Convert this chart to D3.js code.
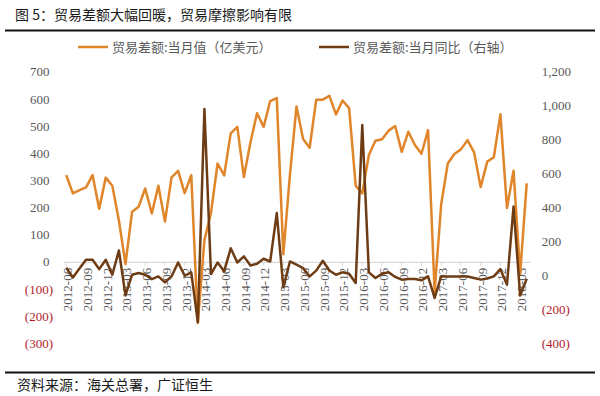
<!DOCTYPE html>
<html>
<head>
<meta charset="utf-8">
<script src="https://cdn.jsdelivr.net/npm/d3@7"></script>
<style>
  body { margin: 0; background: #fff; }
  .num { font-family: "Liberation Serif", "Times New Roman", serif; font-size: 13px; fill: #595959; }
  .cjk { font-family: "Noto Sans CJK SC", sans-serif; }
</style>
</head>
<body>
<svg id="chart" width="600" height="396"></svg>
<script>
// 月份：2012-06 ~ 2018-04
var months = d3.timeMonth.range(new Date(2012, 5, 1), new Date(2018, 4, 1)).map(d3.timeFormat("%Y-%m"));

// 贸易差额:当月值（亿美元），左轴
var balance = [
  319, 252, 264, 274, 319, 195, 310,
  280, 152, -8, 184, 203, 270, 178, 280, 148, 311, 335, 253,
  319, -225, 80, 180, 362, 318, 473, 497, 312, 440, 547, 497,
  592, 603, 28, 320, 572, 452, 420, 597, 597, 611, 543, 594,
  566, 280, 252, 393, 446, 451, 483, 500, 405, 479, 430, 398,
  485, -110, 212, 362, 397, 414, 448, 403, 275, 369, 385, 543,
  198, 335, -45, 289
];

// 贸易差额:当月同比（%），右轴
var yoy = [
  45, -12, 40, 92, 92, 37, 92,
  4, 147, -118, 4, 14, 4, -22, -6, -41, -6, 76, -2,
  18, -276, 980, 8, 76, 24, 160, 76, 112, 58, 69, 98,
  82, 367, -70, 82, 63, 43, -6, 28, 86, 29, 4, 18,
  10, -45, 886, 18, -15, 10, 18, -9, -25, -21, -21, -29,
  -6, -133, -6, -6, -6, -6, -6, -15, -25, -18, -6, 37,
  -55, 406, -119, -20
];

var leftTicks = [-300, -200, -100, 0, 100, 200, 300, 400, 500, 600, 700];
var rightTicks = [-400, -200, 0, 200, 400, 600, 800, 1000, 1200];
var xTickLabels = months.filter(function(d, i) { return i % 3 === 0; });

var svg = d3.select("#chart");
var plotL = 63, plotR = 530, plotT = 71.7, plotB = 343.3;
var orange = "#e0852a", brown = "#6e3c14", negRed = "#b01c2e";

var x = d3.scaleBand().domain(months).range([plotL, plotR]);
var yL = d3.scaleLinear().domain([-300, 700]).range([plotB, plotT]);
var yR = d3.scaleLinear().domain([-400, 1200]).range([plotB, plotT]);

function fmt(v) {
  var s = d3.format(",")(Math.abs(v));
  return v < 0 ? "(" + s + ")" : s;
}

// 标题
svg.append("text").attr("class", "cjk").attr("x", 15).attr("y", 20)
  .attr("font-size", 14).attr("fill", "#1a1a1a")
  .text("图 5：贸易差额大幅回暖，贸易摩擦影响有限");
svg.append("line").attr("x1", 5).attr("x2", 595).attr("y1", 30.5).attr("y2", 30.5)
  .attr("stroke", "#111").attr("stroke-width", 2);

// 图例
var legend = [
  { name: "贸易差额:当月值（亿美元）", color: orange, x: 78 },
  { name: "贸易差额:当月同比（右轴）", color: brown, x: 319 }
];
var lg = svg.selectAll(".lg").data(legend).enter().append("g")
  .attr("transform", function(d) { return "translate(" + d.x + ",47)"; });
lg.append("line").attr("x1", 0).attr("x2", 30).attr("stroke", function(d) { return d.color; })
  .attr("stroke-width", 2.5);
lg.append("text").attr("class", "cjk").attr("x", 34).attr("dy", "0.35em")
  .attr("font-size", 13).attr("fill", "#595959").text(function(d) { return d.name; });

// 左轴
var gl = svg.append("g").attr("transform", "translate(" + plotL + ",0)")
  .call(d3.axisLeft(yL).tickValues(leftTicks).tickSize(0).tickPadding(13.5).tickFormat(fmt));
gl.select(".domain").remove();
gl.selectAll("text").attr("class", "num")
  .attr("dx", function(d) { return d < 0 ? 3.5 : 0; })
  .style("fill", function(d) { return d < 0 ? negRed : "#595959"; });

// 右轴
var gr = svg.append("g").attr("transform", "translate(" + plotR + ",0)")
  .call(d3.axisRight(yR).tickValues(rightTicks).tickSize(0).tickPadding(11.7).tickFormat(fmt));
gr.select(".domain").remove();
gr.selectAll("text").attr("class", "num")
  .style("fill", function(d) { return d < 0 ? negRed : "#595959"; });

// 横轴（零线）
var gx = svg.append("g").attr("transform", "translate(0," + yL(0) + ")")
  .call(d3.axisBottom(x).tickValues(xTickLabels).tickSizeInner(4).tickSizeOuter(0));
gx.select(".domain").attr("stroke", "#d9d9d9").attr("stroke-width", 1.2);
gx.selectAll(".tick line").attr("stroke", "#d9d9d9");
gx.selectAll("text").attr("class", "num")
  .attr("transform", "rotate(-90)")
  .attr("x", -6).attr("y", 0).attr("dy", "0.45em")
  .style("text-anchor", "end");

// 折线
var lineL = d3.line()
  .x(function(d, i) { return x(months[i]) + x.bandwidth() / 2; })
  .y(function(d) { return yL(d); });
var lineR = d3.line()
  .x(function(d, i) { return x(months[i]) + x.bandwidth() / 2; })
  .y(function(d) { return yR(d); });

svg.append("path").datum(balance).attr("d", lineL)
  .attr("fill", "none").attr("stroke", orange).attr("stroke-width", 2.5)
  .attr("stroke-linejoin", "round");
svg.append("path").datum(yoy).attr("d", lineR)
  .attr("fill", "none").attr("stroke", brown).attr("stroke-width", 2.5)
  .attr("stroke-linejoin", "round");

// 资料来源
svg.append("line").attr("x1", 5).attr("x2", 595).attr("y1", 372.5).attr("y2", 372.5)
  .attr("stroke", "#111").attr("stroke-width", 2);
svg.append("text").attr("class", "cjk").attr("x", 17).attr("y", 390)
  .attr("font-size", 14).attr("fill", "#1a1a1a")
  .text("资料来源：海关总署，广证恒生");
</script>
</body>
</html>
